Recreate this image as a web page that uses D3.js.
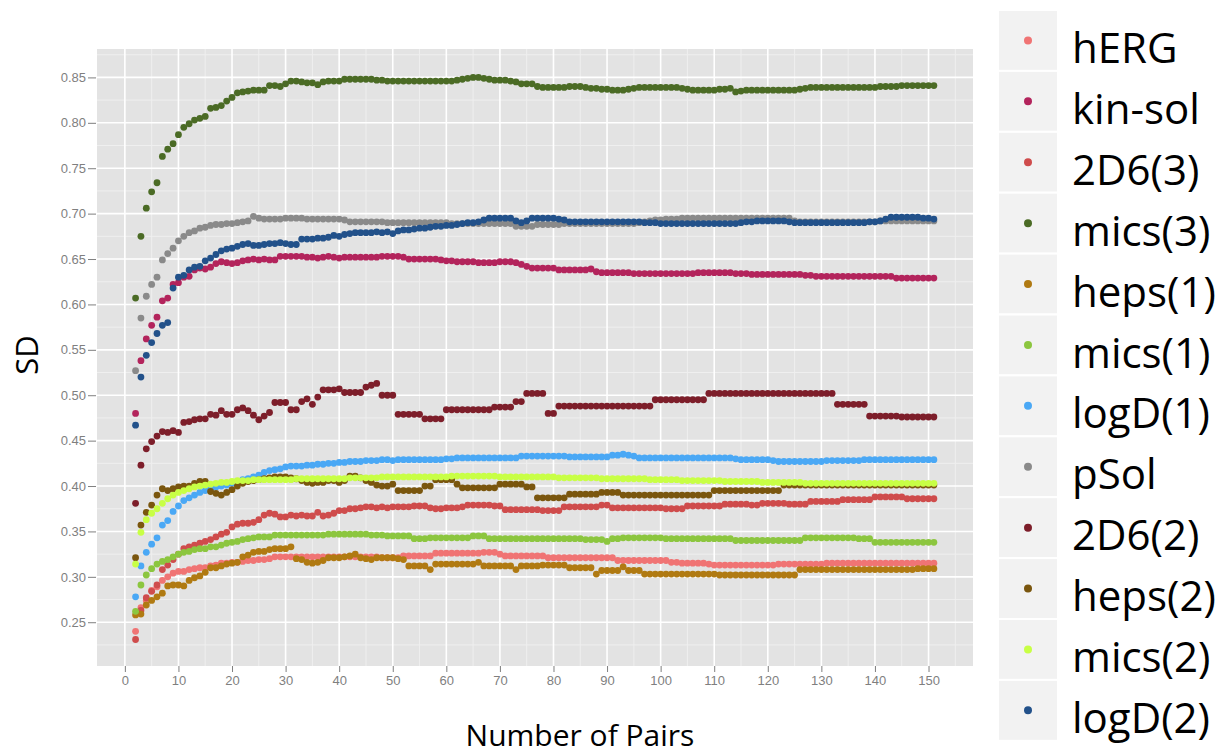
<!DOCTYPE html>
<html>
<head>
<meta charset="utf-8">
<script src="https://cdnjs.cloudflare.com/ajax/libs/d3/7.8.5/d3.min.js"></script>
<style>
body { margin: 0; background: #fff; }
#chart svg { display: block; }
.axis .tick text { fill: #7f7f7f; font-family: "Liberation Sans", Arial, sans-serif; font-size: 13px; }
.axis .tick line { stroke: #7f7f7f; stroke-width: 1; }
.axis .domain { display: none; }
.title { font-family: "Open Sans", sans-serif; fill: #000; }
</style>
</head>
<body>
<div id="chart"></div>
<script>
var w = 1225;
var h = 756;
var panel = {left: 97, right: 973, top: 49, bottom: 666};

// number of pairs, 2..151
var pairs = d3.range(2, 152);
var xTicks = [0, 10, 20, 30, 40, 50, 60, 70, 80, 90, 100, 110, 120, 130, 140, 150];
var yTicks = [0.25, 0.30, 0.35, 0.40, 0.45, 0.50, 0.55, 0.60, 0.65, 0.70, 0.75, 0.80, 0.85];

var seriesNames = ["hERG", "kin-sol", "2D6(3)", "mics(3)", "heps(1)", "mics(1)", "logD(1)", "pSol", "2D6(2)", "heps(2)", "mics(2)", "logD(2)"];
var seriesColors = ["#f07474", "#b3245c", "#cf4c4c", "#4b6b25", "#b07a12", "#8cc63f", "#4aa8f5", "#8a8a8a", "#7d1e2a", "#7a560e", "#c8ff45", "#22518a"];

// SD values, one per number of pairs (2..151)
var hERG = [
  .240,.266,.274,.285,.289,.296,.300,.304,.306,.306,
  .308,.309,.310,.310,.312,.313,.315,.315,.316,.316,
  .317,.318,.318,.319,.319,.320,.322,.322,.322,.322,
  .322,.322,.322,.322,.322,.322,.322,.322,.322,.322,
  .322,.322,.322,.322,.322,.322,.321,.321,.321,.321,
  .323,.323,.323,.323,.323,.323,.326,.326,.326,.326,
  .326,.326,.326,.326,.326,.327,.327,.327,.325,.323,
  .323,.323,.323,.323,.323,.323,.323,.321,.321,.321,
  .321,.321,.321,.321,.321,.321,.321,.321,.321,.321,
  .318,.318,.318,.318,.318,.318,.318,.318,.318,.318,
  .316,.316,.315,.315,.315,.315,.315,.314,.313,.313,
  .313,.313,.313,.313,.313,.313,.313,.313,.313,.313,
  .314,.314,.314,.314,.314,.314,.314,.314,.314,.315,
  .315,.315,.315,.315,.315,.315,.315,.315,.315,.315,
  .315,.315,.315,.315,.315,.315,.315,.315,.315,.315];
var kinSol = [
  .480,.538,.562,.577,.586,.604,.607,.622,.624,.630,
  .631,.638,.640,.639,.641,.645,.647,.646,.645,.646,
  .648,.649,.650,.649,.650,.649,.649,.653,.653,.653,
  .653,.653,.652,.652,.651,.652,.653,.652,.651,.652,
  .652,.652,.652,.652,.652,.652,.653,.653,.653,.653,
  .652,.650,.650,.650,.650,.650,.650,.649,.648,.648,
  .647,.647,.647,.647,.646,.646,.646,.646,.647,.647,
  .647,.646,.644,.642,.640,.640,.640,.640,.640,.638,
  .638,.638,.638,.638,.638,.639,.636,.635,.635,.635,
  .635,.635,.635,.634,.634,.634,.634,.634,.634,.634,
  .634,.634,.634,.634,.634,.635,.635,.635,.635,.635,
  .635,.635,.634,.634,.634,.633,.633,.633,.633,.633,
  .633,.633,.633,.633,.633,.632,.632,.631,.631,.631,
  .631,.631,.631,.631,.631,.631,.631,.631,.631,.631,
  .631,.631,.629,.629,.629,.629,.629,.629,.629,.629];
var cyp2D6_3 = [
  .231,.263,.277,.284,.291,.308,.313,.319,.325,.331,
  .333,.335,.337,.339,.341,.344,.347,.349,.355,.358,
  .359,.359,.360,.363,.368,.370,.369,.366,.366,.368,
  .367,.368,.367,.367,.371,.367,.368,.370,.373,.373,
  .375,.375,.376,.377,.377,.376,.377,.376,.377,.377,
  .377,.377,.378,.378,.378,.376,.375,.375,.376,.376,
  .376,.377,.379,.379,.379,.379,.379,.378,.378,.374,
  .374,.374,.374,.374,.374,.374,.373,.373,.373,.373,
  .377,.377,.377,.377,.377,.377,.377,.379,.379,.376,
  .376,.376,.376,.376,.376,.376,.376,.376,.376,.375,
  .375,.375,.375,.378,.378,.378,.378,.378,.378,.378,
  .380,.380,.380,.380,.380,.379,.379,.381,.381,.381,
  .381,.381,.380,.380,.380,.380,.383,.383,.383,.383,
  .383,.383,.385,.385,.385,.385,.385,.385,.388,.388,
  .388,.388,.388,.388,.386,.386,.386,.386,.386,.386];
var mics3 = [
  .607,.675,.706,.724,.734,.763,.771,.777,.787,.795,
  .799,.803,.805,.807,.816,.817,.819,.824,.828,.833,
  .834,.835,.836,.836,.836,.841,.841,.840,.843,.846,
  .846,.845,.844,.844,.842,.845,.846,.846,.846,.848,
  .848,.848,.848,.848,.848,.847,.847,.846,.846,.846,
  .846,.846,.846,.846,.846,.846,.846,.846,.846,.846,
  .847,.848,.849,.850,.850,.849,.848,.847,.847,.847,
  .846,.845,.843,.843,.843,.840,.839,.839,.839,.839,
  .839,.840,.840,.840,.839,.838,.838,.837,.837,.836,
  .836,.836,.837,.838,.839,.839,.839,.839,.839,.839,
  .839,.839,.838,.837,.836,.836,.836,.836,.836,.837,
  .837,.838,.834,.835,.836,.836,.836,.836,.836,.836,
  .836,.836,.836,.836,.837,.838,.839,.839,.839,.839,
  .839,.839,.839,.839,.839,.839,.839,.839,.839,.840,
  .840,.840,.840,.841,.841,.841,.841,.841,.841,.841];
var heps1 = [
  .258,.259,.269,.274,.278,.282,.290,.291,.291,.290,
  .296,.299,.301,.305,.310,.310,.312,.314,.315,.316,
  .322,.324,.327,.328,.328,.330,.331,.331,.331,.333,
  .320,.319,.316,.315,.316,.318,.321,.321,.321,.322,
  .323,.325,.321,.320,.319,.321,.321,.321,.321,.320,
  .319,.312,.312,.312,.312,.308,.314,.314,.314,.314,
  .314,.314,.314,.314,.316,.312,.312,.312,.312,.312,
  .312,.308,.312,.312,.312,.312,.313,.313,.313,.313,
  .313,.310,.310,.310,.310,.310,.303,.307,.307,.307,
  .307,.311,.307,.307,.307,.303,.303,.303,.303,.303,
  .303,.303,.303,.303,.303,.303,.303,.303,.303,.302,
  .302,.302,.302,.302,.302,.302,.302,.302,.302,.302,
  .302,.302,.302,.302,.308,.308,.308,.308,.308,.308,
  .308,.308,.308,.308,.308,.308,.308,.308,.308,.308,
  .308,.308,.308,.308,.308,.308,.309,.309,.309,.309];
var mics1 = [
  .262,.291,.302,.309,.314,.317,.319,.322,.325,.327,
  .328,.330,.331,.331,.333,.333,.335,.337,.338,.339,
  .341,.342,.343,.344,.344,.344,.346,.346,.346,.346,
  .346,.346,.346,.346,.346,.346,.347,.347,.347,.347,
  .347,.347,.347,.347,.346,.346,.346,.345,.345,.345,
  .345,.345,.342,.342,.342,.343,.343,.343,.343,.343,
  .343,.343,.343,.345,.345,.345,.342,.342,.342,.342,
  .342,.342,.342,.342,.342,.342,.342,.342,.342,.342,
  .342,.342,.342,.342,.341,.341,.341,.341,.339,.342,
  .342,.343,.343,.343,.343,.343,.343,.343,.343,.342,
  .342,.342,.342,.342,.342,.342,.342,.342,.342,.342,
  .342,.342,.340,.340,.340,.340,.340,.340,.340,.340,
  .340,.340,.340,.340,.340,.343,.343,.343,.343,.343,
  .343,.343,.343,.343,.343,.342,.342,.342,.338,.338,
  .338,.338,.338,.338,.338,.338,.338,.338,.338,.338];
var logD1 = [
  .278,.312,.327,.336,.343,.357,.362,.372,.378,.384,
  .387,.390,.393,.395,.397,.399,.400,.401,.403,.405,
  .407,.408,.410,.412,.415,.417,.418,.419,.421,.422,
  .422,.422,.423,.423,.424,.424,.425,.425,.426,.426,
  .427,.427,.427,.428,.428,.428,.429,.429,.428,.429,
  .429,.429,.429,.429,.429,.429,.429,.429,.430,.430,
  .431,.431,.431,.431,.431,.431,.431,.431,.431,.431,
  .431,.431,.433,.433,.433,.433,.433,.433,.433,.433,
  .433,.432,.432,.432,.432,.432,.432,.432,.432,.434,
  .434,.435,.434,.433,.431,.431,.431,.431,.431,.431,
  .431,.431,.431,.431,.431,.431,.431,.431,.431,.431,
  .431,.431,.430,.429,.429,.429,.429,.429,.429,.428,
  .427,.427,.427,.427,.427,.427,.427,.427,.427,.428,
  .428,.428,.428,.428,.428,.428,.429,.429,.429,.429,
  .429,.429,.429,.429,.429,.429,.429,.429,.429,.429];
var pSol = [
  .527,.585,.609,.622,.630,.649,.656,.662,.670,.675,
  .679,.681,.684,.685,.687,.688,.688,.689,.689,.690,
  .691,.692,.697,.695,.694,.694,.694,.694,.695,.695,
  .695,.695,.694,.694,.694,.694,.694,.694,.694,.693,
  .691,.691,.691,.691,.691,.691,.691,.690,.690,.690,
  .690,.690,.690,.690,.690,.690,.690,.690,.690,.689,
  .689,.689,.689,.689,.689,.689,.689,.689,.689,.689,
  .689,.686,.686,.686,.686,.688,.688,.688,.688,.688,
  .689,.689,.689,.689,.689,.689,.689,.689,.689,.689,
  .689,.689,.689,.689,.690,.691,.692,.693,.693,.694,
  .694,.694,.695,.695,.695,.695,.695,.695,.695,.695,
  .695,.695,.695,.695,.695,.695,.695,.695,.695,.695,
  .695,.695,.695,.692,.691,.691,.691,.691,.691,.691,
  .691,.691,.691,.691,.691,.691,.691,.691,.691,.692,
  .692,.692,.692,.692,.692,.692,.692,.692,.692,.692];
var cyp2D6_2 = [
  .381,.423,.441,.449,.455,.460,.459,.461,.459,.470,
  .471,.473,.474,.474,.479,.478,.483,.479,.479,.484,
  .486,.483,.478,.473,.477,.481,.492,.492,.492,.484,
  .484,.493,.496,.490,.498,.506,.506,.506,.507,.503,
  .503,.503,.503,.509,.511,.513,.500,.500,.500,.479,
  .479,.479,.479,.479,.474,.474,.474,.474,.484,.484,
  .484,.484,.484,.484,.484,.484,.484,.487,.487,.487,
  .487,.493,.493,.502,.502,.502,.502,.480,.480,.488,
  .488,.488,.488,.488,.488,.488,.488,.488,.488,.488,
  .488,.488,.488,.488,.488,.488,.488,.495,.495,.495,
  .495,.495,.495,.495,.495,.495,.495,.502,.502,.502,
  .502,.502,.502,.502,.502,.502,.502,.502,.502,.502,
  .502,.502,.502,.502,.502,.502,.502,.502,.502,.502,
  .502,.490,.490,.490,.490,.490,.490,.477,.477,.477,
  .477,.477,.477,.476,.476,.476,.476,.476,.476,.476];
var heps2 = [
  .321,.357,.371,.379,.390,.397,.395,.397,.399,.400,
  .400,.403,.405,.405,.394,.392,.390,.393,.396,.400,
  .403,.405,.406,.407,.408,.409,.410,.410,.410,.409,
  .408,.406,.404,.403,.404,.404,.406,.406,.404,.406,
  .411,.411,.409,.406,.404,.401,.400,.400,.402,.395,
  .395,.395,.395,.395,.400,.400,.407,.407,.407,.407,
  .402,.398,.398,.398,.398,.398,.398,.398,.402,.402,
  .402,.402,.402,.399,.399,.387,.387,.387,.387,.387,
  .387,.391,.391,.391,.391,.391,.391,.393,.393,.393,
  .393,.390,.390,.390,.390,.390,.390,.390,.390,.390,
  .390,.390,.390,.390,.390,.390,.390,.390,.395,.395,
  .395,.395,.395,.395,.395,.395,.395,.395,.395,.395,
  .395,.401,.401,.401,.401,.401,.401,.401,.401,.401,
  .401,.401,.401,.401,.401,.401,.401,.401,.401,.401,
  .401,.401,.401,.401,.401,.401,.401,.401,.401,.401];
var mics2 = [
  .314,.349,.363,.370,.375,.381,.386,.390,.393,.395,
  .397,.399,.400,.401,.402,.403,.404,.404,.405,.406,
  .406,.406,.407,.407,.407,.407,.407,.407,.407,.407,
  .408,.408,.408,.408,.408,.408,.408,.408,.408,.408,
  .409,.409,.409,.409,.409,.409,.410,.410,.410,.410,
  .410,.410,.410,.410,.410,.410,.410,.410,.410,.411,
  .411,.411,.411,.411,.411,.411,.411,.411,.410,.410,
  .410,.410,.410,.410,.410,.410,.410,.410,.410,.409,
  .409,.409,.409,.409,.409,.409,.409,.408,.408,.408,
  .408,.408,.408,.408,.408,.408,.407,.407,.407,.407,
  .407,.407,.406,.406,.406,.406,.406,.406,.406,.406,
  .405,.405,.405,.405,.405,.405,.405,.404,.404,.404,
  .404,.404,.404,.404,.404,.403,.403,.403,.403,.403,
  .403,.403,.403,.403,.403,.403,.403,.403,.403,.403,
  .403,.403,.403,.403,.403,.403,.403,.403,.403,.403];
var logD2 = [
  .467,.520,.544,.558,.568,.577,.580,.618,.630,.632,
  .638,.641,.642,.648,.651,.655,.659,.661,.662,.664,
  .666,.667,.665,.665,.666,.667,.667,.668,.667,.666,
  .666,.672,.672,.672,.673,.673,.674,.676,.675,.677,
  .678,.679,.679,.679,.679,.680,.679,.680,.678,.681,
  .682,.682,.683,.684,.684,.685,.686,.686,.687,.687,
  .688,.689,.690,.690,.691,.693,.695,.695,.695,.695,
  .695,.692,.690,.692,.695,.695,.695,.695,.695,.694,
  .693,.691,.691,.691,.691,.691,.691,.691,.691,.691,
  .691,.691,.691,.691,.691,.690,.690,.690,.689,.689,
  .689,.689,.689,.689,.689,.689,.689,.689,.689,.689,
  .689,.689,.689,.690,.691,.691,.692,.692,.692,.692,
  .692,.692,.691,.690,.690,.690,.690,.690,.690,.690,
  .690,.690,.690,.690,.690,.690,.690,.691,.691,.692,
  .694,.696,.696,.696,.696,.696,.696,.695,.695,.694];

var seriesValues = [hERG, kinSol, cyp2D6_3, mics3, heps1, mics1, logD1, pSol, cyp2D6_2, heps2, mics2, logD2];

var svg = d3.select("#chart")
            .append("svg")
            .attr("width", w)
            .attr("height", h);

// scales
var xScale = d3.scaleLinear()
    .domain([-5.2, 158.3])
    .range([panel.left, panel.right]);
var yScale = d3.scaleLinear()
    .domain([0.2018, 0.8813])
    .range([panel.bottom, panel.top]);

// panel background
svg.append("rect")
    .attr("x", panel.left)
    .attr("y", panel.top)
    .attr("width", panel.right - panel.left)
    .attr("height", panel.bottom - panel.top)
    .attr("fill", "#e3e3e3");

// minor grid
var xMinor = xTicks.map(d => d + 5);
var yMinor = yTicks.map(d => d - 0.025).concat([0.875]);
svg.append("g").selectAll("line")
    .data(xMinor.filter(d => xScale(d) < panel.right))
    .enter().append("line")
    .attr("x1", d => xScale(d)).attr("x2", d => xScale(d))
    .attr("y1", panel.top).attr("y2", panel.bottom)
    .attr("stroke", "#efefef").attr("stroke-width", 1);
svg.append("g").selectAll("line")
    .data(yMinor.filter(d => yScale(d) > panel.top && yScale(d) < panel.bottom))
    .enter().append("line")
    .attr("y1", d => yScale(d)).attr("y2", d => yScale(d))
    .attr("x1", panel.left).attr("x2", panel.right)
    .attr("stroke", "#efefef").attr("stroke-width", 1);

// major grid
svg.append("g").selectAll("line")
    .data(xTicks)
    .enter().append("line")
    .attr("x1", d => xScale(d)).attr("x2", d => xScale(d))
    .attr("y1", panel.top).attr("y2", panel.bottom)
    .attr("stroke", "#ffffff").attr("stroke-width", 1.6);
svg.append("g").selectAll("line")
    .data(yTicks)
    .enter().append("line")
    .attr("y1", d => yScale(d)).attr("y2", d => yScale(d))
    .attr("x1", panel.left).attr("x2", panel.right)
    .attr("stroke", "#ffffff").attr("stroke-width", 1.6);

// axes
var xAxis = d3.axisBottom(xScale)
    .tickValues(xTicks)
    .tickFormat(d3.format("d"))
    .tickSize(6)
    .tickPadding(4);
var yAxis = d3.axisLeft(yScale)
    .tickValues(yTicks)
    .tickFormat(d3.format(".2f"))
    .tickSize(8)
    .tickPadding(2);
svg.append("g")
    .attr("class", "axis")
    .attr("transform", "translate(0," + panel.bottom + ")")
    .call(xAxis);
svg.append("g")
    .attr("class", "axis")
    .attr("transform", "translate(" + (panel.left - 1) + ",0)")
    .call(yAxis);

// dots, one group per series
seriesNames.forEach(function(name, i) {
    svg.append("g")
        .selectAll("circle")
        .data(seriesValues[i].map((v, j) => ({x: pairs[j], y: v})))
        .enter()
        .append("circle")
        .attr("cx", d => xScale(d.x))
        .attr("cy", d => yScale(d.y))
        .attr("r", 3.4)
        .attr("fill", seriesColors[i]);
});

// axis titles
svg.append("text")
    .attr("class", "title")
    .attr("x", 580)
    .attr("y", 746)
    .attr("text-anchor", "middle")
    .style("font-size", "30px")
    .text("Number of Pairs");
svg.append("text")
    .attr("class", "title")
    .attr("transform", "translate(38,355) rotate(-90)")
    .attr("text-anchor", "middle")
    .style("font-size", "31px")
    .text("SD");

// legend
var keyH = 60.9;
var legend = svg.append("g").attr("transform", "translate(998,10)");
var rows = legend.selectAll("g")
    .data(seriesNames)
    .enter()
    .append("g")
    .attr("transform", (d, i) => "translate(0," + (i * keyH) + ")");
rows.append("rect")
    .attr("width", 60)
    .attr("height", keyH)
    .attr("fill", "#f2f2f2")
    .attr("stroke", "#ffffff")
    .attr("stroke-width", 2);
rows.append("circle")
    .attr("cx", 30)
    .attr("cy", keyH / 2)
    .attr("r", 4)
    .attr("fill", (d, i) => seriesColors[i]);
rows.append("text")
    .attr("class", "title")
    .attr("x", 74)
    .attr("y", 53)
    .style("font-size", "42px")
    .text(d => d);
</script>
</body>
</html>
